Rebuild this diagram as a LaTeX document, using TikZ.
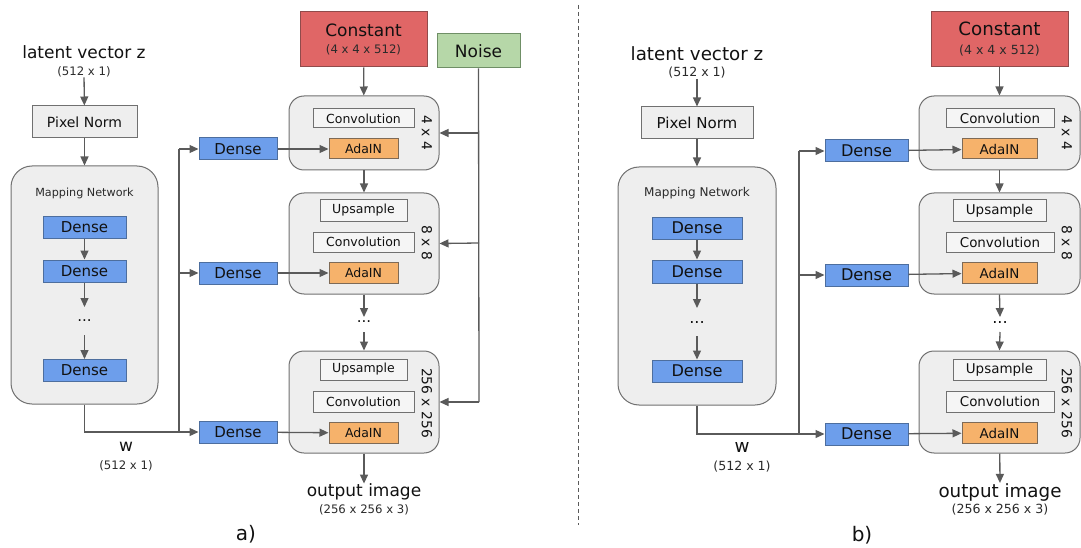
\documentclass[tikz,border=0pt]{standalone}
\usepackage{fontspec}
\setmainfont{DejaVu Sans}
\usetikzlibrary{arrows.meta}

\definecolor{blockfill}{HTML}{EEEEEE}
\definecolor{boxline}{HTML}{707070}
\definecolor{convfill}{HTML}{F5F5F5}
\definecolor{densefill}{HTML}{6D9EEB}
\definecolor{denseline}{HTML}{4D6E9E}
\definecolor{adafill}{HTML}{F6B26B}
\definecolor{adaline}{HTML}{7E6A56}
\definecolor{constfill}{HTML}{E06666}
\definecolor{constline}{HTML}{904B4B}
\definecolor{noisefill}{HTML}{B6D7A8}
\definecolor{noiseline}{HTML}{6F8F66}
\definecolor{linec}{HTML}{5A5A5A}
\definecolor{txt}{HTML}{111111}
\definecolor{subtxt}{HTML}{2A2A2A}

% font size scaled by the panel factor \K
\newcommand\K{1}
\newcommand\fsz[1]{\fontsize{\fpeval{#1*\K}}{\fpeval{1.2*#1*\K}}\selectfont}

\tikzset{
  sz/.style 2 args={minimum width=#1pt, minimum height=#2pt},
  base/.style={draw=boxline, line width=1pt, inner sep=0pt, text=txt},
  block/.style={base, fill=blockfill, rounded corners=15pt},
  mapblock/.style={base, fill=blockfill, rounded corners=21pt},
  normbox/.style={base, fill=blockfill, font=\fsz{14}},
  opbox/.style={base, fill=convfill, font=\fsz{12.5}},
  densebox/.style={base, draw=denseline, fill=densefill, font=\fsz{15}},
  adabox/.style={base, draw=adaline, fill=adafill, font=\fsz{12.5}},
  constbox/.style={base, draw=constline, fill=constfill, font=\fsz{17}, align=center},
  noisebox/.style={base, draw=noiseline, fill=noisefill, font=\fsz{17}},
  bigtxt/.style={inner sep=0pt, text=txt, font=\fsz{17}},
  subtext/.style={inner sep=0pt, text=subtxt, font=\fsz{11.7}},
  maptxt/.style={inner sep=0pt, text=subtxt, font=\fsz{11.2}},
  dotstxt/.style={inner sep=0pt, text=txt, font=\fsz{15}},
  sidelbl/.style={inner sep=0pt, text=txt, font=\fontsize{13.8}{16}\selectfont, rotate=-90},
  captxt/.style={inner sep=0pt, text=txt, font=\fontsize{20}{24}\selectfont},
  wire/.style={draw=linec, line width=1.3pt},
  arr/.style={wire, -{Triangle[length=9pt,width=8pt]}},
}

\begin{document}
\begin{tikzpicture}[x=1pt, y=-1pt]
\useasboundingbox (0,0) rectangle (1081,548);

% separator between the two panels
\draw[draw=linec, line width=0.8pt, dash pattern=on 4pt off 3pt] (578,5) -- (578,525);

% ===================== panel a) =====================
\renewcommand\K{1}
% mapping side
\node[bigtxt] (aZ) at (84,52) {latent vector z};
\node[subtext] (aZs) at (84,72) {(512 x 1)};
\node[normbox, sz={105}{32}] (aPN) at (84.5,122) {Pixel Norm};
\node[mapblock, sz={147}{238}] (aMap) at (84.5,285) {};
\node[maptxt] (aMapL) at (84.5,193) {Mapping Network};
\node[densebox, sz={83}{22}] (aM1) at (84.5,227) {Dense};
\node[densebox, sz={83}{22}] (aM2) at (84.5,271) {Dense};
\node[dotstxt] (aMd) at (84.5,321) {...};
\node[densebox, sz={83}{22}] (aM3) at (84.5,370.5) {Dense};
\node[bigtxt] (aW) at (126,447) {w};
\node[subtext] (aWs) at (126,466) {(512 x 1)};

\draw[arr] (aZs) -- (aPN);
\draw[arr] (aPN) -- (aMap);
\draw[arr] (aM1) -- (aM2);
\draw[arr] (aM2.south) -- (84.5,307);
\draw[arr] (84.5,335) -- (aM3.north);

% style affine layers
\node[densebox, sz={78}{22}] (aDA) at (238,149) {Dense};
\node[densebox, sz={78}{22}] (aDB) at (238,273) {Dense};
\node[densebox, sz={78}{22}] (aDC) at (238,432) {Dense};
\coordinate (aJA) at (179,149);
\coordinate (aJB) at (179,273);
\coordinate (aJC) at (179,432);
\draw[arr] (aMap.south) |- (aDC.west);
\draw[wire] (aJC) -- (aJA);
\draw[arr] (aJA) -- (aDA.west);
\draw[arr] (aJB) -- (aDB.west);

% synthesis side
\node[constbox, sz={127}{55}] (aC) at (363.5,39.5) {Constant\\[-3pt]{\fsz{11.7}\color{subtxt}(4 x 4 x 512)}};
\node[noisebox, sz={83}{34}] (aN) at (478.5,51) {Noise};

\node[block, sz={150}{74}] (aB1) at (364,133) {};
\node[opbox, sz={101}{19}] (aB1c) at (363.5,118.5) {Convolution};
\node[adabox, sz={69}{20}] (aB1a) at (363.5,149) {AdaIN};
\node[sidelbl] (aB1l) at (427,133) {4 x 4};

\node[block, sz={150}{101}] (aB2) at (364,243.5) {};
\node[opbox, sz={87}{21}] (aB2u) at (363.5,210.5) {Upsample};
\node[opbox, sz={101}{20}] (aB2c) at (363.5,242) {Convolution};
\node[adabox, sz={69}{21}] (aB2a) at (363.5,273) {AdaIN};
\node[sidelbl] (aB2l) at (427,243) {8 x 8};

\node[dotstxt] (aGd) at (364,322) {...};

\node[block, sz={150}{102}] (aB3) at (364,402) {};
\node[opbox, sz={87}{21}] (aB3u) at (363.5,369.5) {Upsample};
\node[opbox, sz={101}{21}] (aB3c) at (363.5,401.5) {Convolution};
\node[adabox, sz={69}{21}] (aB3a) at (363.5,433) {AdaIN};
\node[sidelbl] (aB3l) at (427,403) {256 x 256};

\node[bigtxt] (aOut) at (364,492) {output image};
\node[subtext] (aOuts) at (364,510) {(256 x 256 x 3)};
\node[captxt] (aCap) at (246,534) {a)};

\draw[arr] (aC) -- (aB1);
\draw[arr] (aB1) -- (aB2);
\draw[arr] (aB2.south) -- (364,317);
\draw[arr] (364,332) -- (aB3.north);
\draw[arr] (aB3) -- (aOut);

\draw[arr] (aDA) -- (aB1a);
\draw[arr] (aDB) -- (aB2a);
\draw[arr] (aDC) -- (aB3a);

\coordinate (aN1) at (479,133);
\coordinate (aN2) at (479,243);
\coordinate (aN3) at (479,402);
\draw[wire] (aN.south) -- (aN3);
\draw[arr] (aN1) -- (aB1.east);
\draw[arr] (aN2) -- (aB2.east);
\draw[arr] (aN3) -- (aB3.east);

% ===================== panel b) =====================
\renewcommand\K{1.075}
\node[bigtxt] (bZ) at (697,54) {latent vector z};
\node[subtext] (bZs) at (697,73) {(512 x 1)};
\node[normbox, sz={112}{32}] (bPN) at (697,123) {Pixel Norm};
\node[mapblock, sz={158}{238}] (bMap) at (697,286) {};
\node[maptxt] (bMapL) at (697,193) {Mapping Network};
\node[densebox, sz={90}{22}] (bM1) at (697,228) {Dense};
\node[densebox, sz={90}{23}] (bM2) at (697,271.5) {Dense};
\node[dotstxt] (bMd) at (697,322) {...};
\node[densebox, sz={90}{22}] (bM3) at (697,371) {Dense};
\node[bigtxt] (bW) at (742,448) {w};
\node[subtext] (bWs) at (742,467) {(512 x 1)};

\draw[arr] (bZs) -- (bPN);
\draw[arr] (bPN) -- (bMap);
\draw[arr] (bM1) -- (bM2);
\draw[arr] (bM2.south) -- (697,308);
\draw[arr] (697,336) -- (bM3.north);

\node[densebox, sz={83}{22}] (bDA) at (866.5,151) {Dense};
\node[densebox, sz={83}{22}] (bDB) at (866.5,275) {Dense};
\node[densebox, sz={83}{22}] (bDC) at (866.5,434) {Dense};
\coordinate (bJA) at (799,151);
\coordinate (bJB) at (799,275);
\coordinate (bJC) at (799,434);
\draw[arr] (bMap.south) |- (bDC.west);
\draw[wire] (bJC) -- (bJA);
\draw[arr] (bJA) -- (bDA.west);
\draw[arr] (bJB) -- (bDB.west);

\node[constbox, sz={137}{55}] (bC) at (999.5,39.5) {Constant\\[-3pt]{\fsz{11.7}\color{subtxt}(4 x 4 x 512)}};

\node[block, sz={161}{74}] (bB1) at (999.5,133) {};
\node[opbox, sz={108}{19}] (bB1c) at (1000,118.5) {Convolution};
\node[adabox, sz={75}{20}] (bB1a) at (999.5,149) {AdaIN};
\node[sidelbl] (bB1l) at (1067,133) {4 x 4};

\node[block, sz={161}{101}] (bB2) at (999.5,243.5) {};
\node[opbox, sz={93}{21}] (bB2u) at (999.5,210.5) {Upsample};
\node[opbox, sz={108}{20}] (bB2c) at (1000,242) {Convolution};
\node[adabox, sz={75}{21}] (bB2a) at (999.5,273) {AdaIN};
\node[sidelbl] (bB2l) at (1067,243) {8 x 8};

\node[dotstxt] (bGd) at (1000,322) {...};

\node[block, sz={161}{102}] (bB3) at (999.5,402) {};
\node[opbox, sz={93}{21}] (bB3u) at (999.5,369.5) {Upsample};
\node[opbox, sz={108}{21}] (bB3c) at (1000,401.5) {Convolution};
\node[adabox, sz={75}{21}] (bB3a) at (999.5,433) {AdaIN};
\node[sidelbl] (bB3l) at (1067,403) {256 x 256};

\node[bigtxt] (bOut) at (1000,492) {output image};
\node[subtext] (bOuts) at (1000,510) {(256 x 256 x 3)};
\node[captxt] (bCap) at (862,535) {b)};

\draw[arr] (bC) -- (bB1);
\draw[arr] (bB1) -- (bB2);
\draw[arr] (bB2.south) -- (1000,317);
\draw[arr] (1000,332) -- (bB3.north);
\draw[arr] (bB3) -- (bOut);

\draw[arr] (bDA) -- (bB1a);
\draw[arr] (bDB) -- (bB2a);
\draw[arr] (bDC) -- (bB3a);
\end{tikzpicture}
\end{document}
